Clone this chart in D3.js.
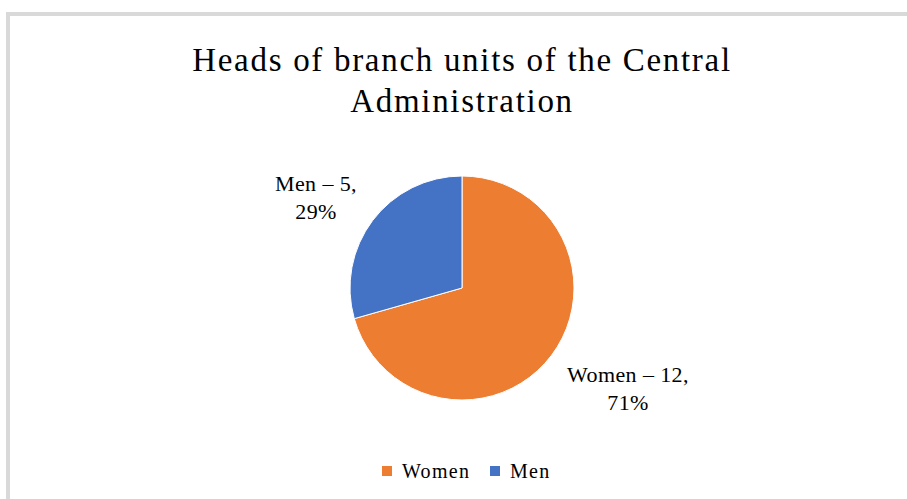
<!DOCTYPE html>
<html>
<head>
<meta charset="utf-8">
<script src="https://cdn.jsdelivr.net/npm/d3@7"></script>
<style>
  body { margin: 0; background: #fff; }
  text { font-family: "Liberation Serif", "Times New Roman", serif; fill: #000; }
</style>
</head>
<body>
<div id="chart"></div>
<script>
// data
const categories = ["Women", "Men"];
const values = [12, 5];
const percents = ["71%", "29%"];
const colors = ["#ED7D31", "#4472C4"];
const titleLines = ["Heads of branch units of the Central", "Administration"];

let width = 907,
    height = 499,
    cx = 462,
    cy = 288,
    radius = 112;

const svg = d3.select("#chart")
  .append("svg")
  .attr("width", width)
  .attr("height", height);

// frame (only top and left edges visible)
svg.append("path")
  .attr("d", `M8,${height} V14 H${width}`)
  .attr("fill", "none")
  .attr("stroke", "#d9d9d9")
  .attr("stroke-width", 4);

// title
svg.append("text")
  .attr("text-anchor", "middle")
  .attr("font-size", 33)
  .attr("letter-spacing", 1.7)
  .selectAll("tspan")
  .data(titleLines)
  .join("tspan")
  .attr("x", cx)
  .attr("y", (d, i) => 71 + i * 41)
  .text(d => d);

const pie = d3.pie().sort(null).value(d => d.value);
const arcs = pie(categories.map((c, i) => ({ name: c, value: values[i], pct: percents[i] })));

const arc = d3.arc().innerRadius(0).outerRadius(radius);

const g = svg.append("g").attr("transform", `translate(${cx},${cy})`);

g.selectAll("path")
  .data(arcs)
  .join("path")
  .attr("d", arc)
  .attr("fill", (d, i) => colors[i])
  .attr("stroke", "#fff")
  .attr("stroke-width", 1);

// data labels, outside the slices
const labelPos = [
  { x: 628, y: 382 },
  { x: 316, y: 191 }
];
arcs.forEach((d, i) => {
  const t = svg.append("text")
    .attr("text-anchor", "middle")
    .attr("font-size", 22)
    .attr("letter-spacing", 0.4);
  t.append("tspan")
    .attr("x", labelPos[i].x)
    .attr("y", labelPos[i].y)
    .text(`${d.data.name} – ${d.data.value},`);
  t.append("tspan")
    .attr("x", labelPos[i].x)
    .attr("y", labelPos[i].y + 28)
    .text(d.data.pct);
});

// legend
const legendX = [382, 490];
const legend = svg.append("g")
  .selectAll("g")
  .data(categories)
  .join("g")
  .attr("transform", (d, i) => `translate(${legendX[i]},466)`);

legend.append("rect")
  .attr("width", 10)
  .attr("height", 10)
  .attr("fill", (d, i) => colors[i]);

legend.append("text")
  .attr("x", 20)
  .attr("y", 12)
  .attr("font-size", 20)
  .attr("letter-spacing", 1.3)
  .text(d => d);
</script>
</body>
</html>
